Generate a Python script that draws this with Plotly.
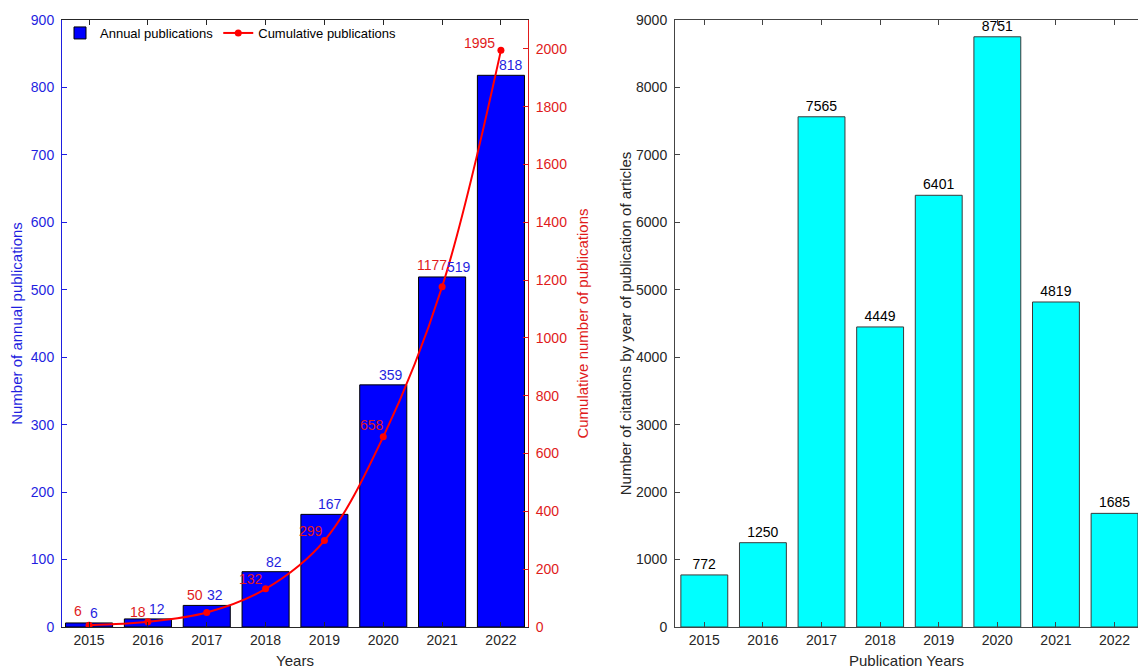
import plotly.graph_objects as go

# ---- data ----
years = ["2015", "2016", "2017", "2018", "2019", "2020", "2021", "2022"]
annual_pubs = [6, 12, 32, 82, 167, 359, 519, 818]
cumulative_pubs = [6, 18, 50, 132, 299, 658, 1177, 1995]
citations = [772, 1250, 7565, 4449, 6401, 8751, 4819, 1685]

left_ticks = list(range(0, 901, 100))
right_ticks = list(range(0, 2001, 200))
cit_ticks = list(range(0, 9001, 1000))

# ---- styles ----
FONT = "Arial, Liberation Sans, Helvetica, sans-serif"
BLUE = "#1f1fe0"
RED = "#e01b1b"
DARK = "#262626"
W, H = 1138, 670

# label offsets (styling only)
blue_xshift = [5, 9, 8, 8, 6, 8, 17, 10]
red_xshift = [-5, 0, -2, -1, 1, 3, 7, -4]
red_yshift = [4, 0, 8, 0, 0, 2, 12, -3]

fig = go.Figure()

fig.add_trace(go.Bar(
    x=years, y=annual_pubs, name="Annual publications",
    marker=dict(color="#0000ff", line=dict(color="black", width=1)),
    width=0.8, xaxis="x", yaxis="y",
))
fig.add_trace(go.Scatter(
    x=years, y=cumulative_pubs, name="Cumulative publications",
    mode="lines+markers",
    line=dict(color="#ff0000", width=2, shape="spline", smoothing=1),
    marker=dict(color="#ff0000", size=7, symbol="circle"),
    xaxis="x", yaxis="y2",
))
fig.add_trace(go.Bar(
    x=years, y=citations, name="Citations", showlegend=False,
    marker=dict(color="#00ffff", line=dict(color="#3a3a3a", width=1)),
    width=0.8, xaxis="x2", yaxis="y3",
    text=[str(v) for v in citations], textposition="outside",
    textfont=dict(family=FONT, size=14, color="black"),
    cliponaxis=False,
))

annotations = []
for i, (yr, v) in enumerate(zip(years, annual_pubs)):
    annotations.append(dict(
        x=i, y=v, xref="x", yref="y", text=str(v), showarrow=False,
        xanchor="center", yanchor="bottom", xshift=blue_xshift[i], yshift=0,
        font=dict(family=FONT, size=14, color=BLUE)))
for i, (yr, v) in enumerate(zip(years, cumulative_pubs)):
    annotations.append(dict(
        x=i, y=v, xref="x", yref="y2", text=str(v), showarrow=False,
        xanchor="right", yanchor="bottom", xshift=red_xshift[i], yshift=red_yshift[i],
        font=dict(family=FONT, size=14, color=RED)))

ydom = [43 / H, 650 / H]

fig.update_layout(
    template="none",
    width=W, height=H,
    margin=dict(l=0, r=0, t=0, b=0, autoexpand=False),
    paper_bgcolor="white", plot_bgcolor="rgba(0,0,0,0)",
    font=dict(family=FONT, size=14, color=DARK),
    showlegend=True,
    legend=dict(orientation="h", x=60 / W, y=652 / H, xanchor="left", yanchor="top",
                bgcolor="rgba(0,0,0,0)", font=dict(family=FONT, size=13, color="black"),
                itemwidth=30, tracegroupgap=0),
    bargap=0.2,
    xaxis=dict(domain=[62 / W, 528 / W], anchor="y", type="category", automargin=False,
               range=[-0.46, 7.46], showline=True, linecolor=DARK, linewidth=1,
               mirror="ticks", ticks="inside", ticklen=5, tickcolor=DARK,
               tickfont=dict(family=FONT, size=14, color=DARK),
               title=dict(text="Years", font=dict(family=FONT, size=15, color=DARK), standoff=8),
               showgrid=False, zeroline=False),
    yaxis=dict(domain=ydom, anchor="x", range=[0, 900], tickvals=left_ticks, automargin=False,
               showline=True, linecolor=BLUE, linewidth=1, ticks="inside", ticklen=5,
               tickcolor=BLUE, tickfont=dict(family=FONT, size=14, color=BLUE),
               ticklabelstandoff=4,
               title=dict(text="Number of annual publications",
                          font=dict(family=FONT, size=15, color=BLUE), standoff=4),
               showgrid=False, zeroline=False),
    yaxis2=dict(overlaying="y", anchor="x", side="right", range=[0, 2100], automargin=False,
                tickvals=right_ticks, showline=True, linecolor=RED, linewidth=1,
                ticks="inside", ticklen=5, tickcolor=RED,
                tickfont=dict(family=FONT, size=14, color=RED), ticklabelstandoff=4,
                title=dict(text="Cumulative number of publications",
                           font=dict(family=FONT, size=15, color=RED), standoff=11),
                showgrid=False, zeroline=False),
    xaxis2=dict(domain=[675 / W, 1.0], anchor="y3", type="category", automargin=False,
                range=[-0.5, 7.4], showline=True, linecolor="#444444", linewidth=1,
                mirror="ticks", ticks="inside", ticklen=5, tickcolor="#444444",
                tickfont=dict(family=FONT, size=14, color=DARK),
                title=dict(text="Publication Years",
                           font=dict(family=FONT, size=15, color=DARK), standoff=8),
                showgrid=False, zeroline=False),
    yaxis3=dict(domain=ydom, anchor="x2", range=[0, 9000], tickvals=cit_ticks, automargin=False,
                showline=True, linecolor="#444444", linewidth=1, ticks="inside",
                ticklen=5, tickcolor="#444444",
                tickfont=dict(family=FONT, size=14, color=DARK), ticklabelstandoff=4,
                title=dict(text="Number of citations by year of publication of articles",
                           font=dict(family=FONT, size=15, color=DARK), standoff=0),
                showgrid=False, zeroline=False),
    annotations=annotations,
)

fig.write_html("out.html", config={"displayModeBar": False},
               post_script="document.body.style.margin='0';document.body.style.overflow='hidden';")
